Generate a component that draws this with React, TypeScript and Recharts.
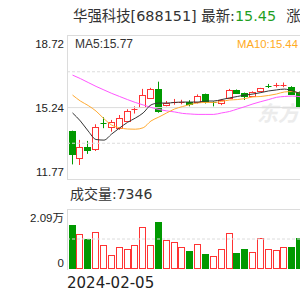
import React from "react";
import { ComposedChart, Bar, Line, XAxis, YAxis, ReferenceLine } from "recharts";

const dates = [
  "2024-02-05", "2024-02-06", "2024-02-07", "2024-02-08", "2024-02-19", "2024-02-20",
  "2024-02-21", "2024-02-22", "2024-02-23", "2024-02-26", "2024-02-27", "2024-02-28",
  "2024-02-29", "2024-03-01", "2024-03-04", "2024-03-05", "2024-03-06", "2024-03-07",
  "2024-03-08", "2024-03-11", "2024-03-12", "2024-03-13", "2024-03-14", "2024-03-15",
  "2024-03-18", "2024-03-19", "2024-03-20", "2024-03-21", "2024-03-22", "2024-03-25",
];
const opens = [14.10, 12.81, 13.31, 13.23, 14.48, 14.31, 14.24, 14.60, 15.13, 15.27, 15.69, 16.13, 15.36, 15.50, 15.50, 15.53, 15.50, 15.89, 15.50, 15.48, 15.69, 16.10, 15.96, 15.82, 16.05, 16.29, 16.30, 16.30, 16.26, 16.00];
const highs = [14.12, 13.67, 13.62, 14.43, 14.77, 14.64, 14.88, 15.16, 15.30, 16.15, 16.20, 16.50, 15.56, 15.66, 15.62, 15.60, 15.88, 15.92, 15.54, 15.66, 16.15, 16.12, 15.97, 16.03, 16.20, 16.39, 16.44, 16.46, 16.28, 16.02];
const lows = [12.48, 12.45, 12.99, 13.13, 14.24, 14.07, 14.16, 14.55, 14.95, 15.24, 15.66, 14.99, 15.30, 15.38, 15.40, 15.30, 15.44, 15.44, 15.30, 15.36, 15.66, 15.92, 15.61, 15.78, 16.02, 16.19, 16.22, 16.23, 15.88, 15.25];
const closes = [12.97, 13.34, 13.18, 14.31, 14.48, 14.55, 14.72, 15.09, 15.16, 15.85, 16.13, 15.08, 15.44, 15.53, 15.53, 15.45, 15.80, 15.48, 15.50, 15.61, 16.10, 15.93, 15.80, 16.01, 16.18, 16.29, 16.33, 16.33, 15.90, 15.30];
const ma5 = [14.98, 14.59, 14.10, 13.69, 13.66, 13.96, 14.25, 14.52, 14.73, 14.98, 15.37, 15.46, 15.46, 15.49, 15.51, 15.51, 15.51, 15.56, 15.56, 15.63, 15.71, 15.78, 15.85, 15.90, 15.97, 16.05, 16.10, 16.14, 16.05, 15.93];
const ma10 = [15.85, 15.56, 15.34, 15.07, 14.70, 14.39, 14.26, 14.20, 14.19, 14.26, 14.59, 14.78, 14.98, 15.17, 15.29, 15.39, 15.47, 15.49, 15.49, 15.54, 15.61, 15.63, 15.68, 15.76, 15.78, 15.83, 15.90, 16.00, 16.02, 15.93];
const ma20 = [16.82, 16.65, 16.46, 16.27, 16.10, 15.93, 15.78, 15.63, 15.49, 15.37, 15.25, 15.15, 15.08, 15.03, 14.96, 14.93, 14.91, 14.91, 14.91, 14.98, 15.05, 15.17, 15.29, 15.42, 15.53, 15.63, 15.74, 15.78, 15.80, 15.77];
const volumes = [1.53, 1.22, 1.045, 1.28, 0.84, 0.49, 0.78, 0.69, 0.84, 1.45, 0.84, 1.63, 1.01, 0.93, 0.78, 0.64, 0.87, 0.52, 0.45, 0.69, 1.24, 0.56, 0.70, 0.58, 1.07, 0.69, 0.66, 0.78, 0.78, 1.07];

const priceTicks = [11.77, 15.24, 18.72];
const volTicks = [0, 2.09];
const volTickLabels = ["0", "2.09万"];

const stockName = "华强科技[688151]";
const latestLabel = "最新:";
const latestValue = "15.45";
const changeLabel = "涨跌";
const ma5Label = "MA5:15.77";
const ma10Label = "MA10:15.44";
const volLabel = "成交量:7346";
const watermark = "东方";

const RED = "#ff3333";
const GREEN = "#009900";
const GRID = "#dcdcdc";

const rows = dates.map((d, i) => ({
  date: d,
  open: opens[i],
  high: highs[i],
  low: lows[i],
  close: closes[i],
  range: [lows[i], highs[i]],
  ma5: ma5[i],
  ma10: ma10[i],
  ma20: ma20[i],
  vol: volumes[i],
}));

const pMin = priceTicks[0];
const pMax = priceTicks[priceTicks.length - 1];
const q1 = pMin + (pMax - pMin) / 4;
const q3 = pMin + ((pMax - pMin) * 3) / 4;
const vMax = volTicks[volTicks.length - 1];

const Candle = (props: any) => {
  const { x, y, width, height, payload } = props;
  const { open, close, high, low } = payload;
  const top = Math.min(y, y + height);
  const h = Math.abs(height);
  const toY = (p: number) => top + ((high - p) / (high - low)) * h;
  const up = close > open;
  const color = up ? RED : GREEN;
  const left = Math.round(x) + 0.5;
  const w = Math.round(width) - 1;
  const cx = left + Math.floor(w / 2);
  const bTop = toY(Math.max(open, close));
  const bBot = toY(Math.min(open, close));
  const bh = bBot - bTop;
  return (
    <g>
      <line x1={cx} x2={cx} y1={top} y2={top + h} stroke={color} strokeWidth={1} />
      {bh < 1 ? (
        <line x1={left} x2={left + w} y1={Math.round(bTop) + 0.5} y2={Math.round(bTop) + 0.5} stroke={color} strokeWidth={1} />
      ) : (
        <rect x={left} y={Math.round(bTop) + 0.5} width={w} height={Math.max(1, Math.round(bh))} fill={up ? "#fff" : color} stroke={color} strokeWidth={1} />
      )}
    </g>
  );
};

const VolBar = (props: any) => {
  const { x, y, width, height, payload } = props;
  const up = payload.close >= payload.open;
  const color = up ? RED : GREEN;
  const left = Math.round(x) + 0.5;
  const w = Math.round(width) - 1;
  const top = Math.round(y) + 0.5;
  const bottom = Math.round(y + height) - 0.5;
  return <rect x={left} y={top} width={w} height={Math.max(0, bottom - top)} fill={up ? "#fff" : color} stroke={color} strokeWidth={1} />;
};

const PriceTick = (props: any) => {
  const { x, y, payload } = props;
  const v = payload.value;
  const dy = v === pMax ? 8 : v === pMin ? -7 : 0;
  return (
    <text x={x} y={y + dy} textAnchor="end" dominantBaseline="central" fontSize={11.5} fill="#222" fontFamily="'Liberation Sans', Arial, sans-serif">
      {v.toFixed(2)}
    </text>
  );
};

const VolTick = (props: any) => {
  const { x, y, payload } = props;
  const v = payload.value;
  const idx = volTicks.indexOf(v);
  const dy = v === vMax ? 9 : -6;
  return (
    <text x={x} y={y + dy} textAnchor="end" dominantBaseline="central" fontSize={11.5} fill="#222" fontFamily="'Liberation Sans', 'Noto Sans CJK SC', sans-serif">
      {volTickLabels[idx]}
    </text>
  );
};

const hline = (top: number): React.CSSProperties => ({ position: "absolute", left: 67, top, width: 233, height: 1, background: GRID });
const vline = (top: number, height: number): React.CSSProperties => ({ position: "absolute", left: 67, top, width: 1, height, background: GRID });

const cjk = "'DejaVu Sans', 'Noto Sans CJK SC', sans-serif";

export default function App() {
  return (
    <div style={{ position: "fixed", left: 0, top: 0, width: 300, height: 300, overflow: "hidden", background: "#fff" }}>
      <div style={{ position: "absolute", left: 73, top: 7, fontSize: 14.4, lineHeight: "18px", whiteSpace: "nowrap", fontFamily: cjk, color: "#333" }}>
        {stockName} {latestLabel}
        <span style={{ color: "#1f9f1f" }}>{latestValue}</span>
        <span style={{ marginLeft: 10 }}>{changeLabel}</span>
      </div>
      <div style={{ position: "absolute", left: 257, top: 99, fontSize: 21, lineHeight: "26px", whiteSpace: "nowrap", fontFamily: "'Noto Sans CJK SC', sans-serif", fontWeight: 700, fontStyle: "italic", color: "#ececec" }}>
        {watermark}
      </div>
      <div style={hline(35)} />
      <div style={vline(35, 145)} />
      <div style={hline(179)} />
      <div style={hline(209)} />
      <div style={vline(209, 61)} />
      <div style={{ position: "absolute", left: 0, top: 0 }}>
        <ComposedChart width={304} height={180} data={rows} margin={{ top: 36, right: 0, bottom: 1, left: 0 }}>
          <XAxis dataKey="date" hide padding={{ left: 1.6, right: 0 }} />
          <YAxis domain={[pMin, pMax]} ticks={priceTicks} interval={0} width={67} tickSize={0} tickMargin={3} axisLine={false} tickLine={false} tick={PriceTick} allowDataOverflow />
          <ReferenceLine y={priceTicks[1]} stroke={GRID} strokeWidth={1} />
          <ReferenceLine y={q3} stroke={GRID} strokeDasharray="3 2" />
          <ReferenceLine y={q1} stroke={GRID} strokeDasharray="3 2" />
          <Bar dataKey="range" barSize={7} shape={Candle} isAnimationActive={false} />
          <Line dataKey="ma20" type="monotone" stroke="#ff55ff" strokeWidth={1} dot={false} isAnimationActive={false} />
          <Line dataKey="ma10" type="monotone" stroke="#ffaa33" strokeWidth={1} dot={false} isAnimationActive={false} />
          <Line dataKey="ma5" type="monotone" stroke="#333333" strokeWidth={1} dot={false} isAnimationActive={false} />
        </ComposedChart>
      </div>
      <div style={{ position: "absolute", left: 75, top: 37, fontSize: 12, lineHeight: "14px", fontFamily: "'Liberation Sans', Arial, sans-serif", color: "#333", whiteSpace: "nowrap" }}>{ma5Label}</div>
      <div style={{ position: "absolute", left: 237, top: 37, fontSize: 11.3, lineHeight: "14px", fontFamily: "'Liberation Sans', Arial, sans-serif", color: "#ffaa22", whiteSpace: "nowrap" }}>{ma10Label}</div>
      <div style={{ position: "absolute", left: 70, top: 185, fontSize: 14, lineHeight: "18px", fontFamily: cjk, color: "#333", whiteSpace: "nowrap" }}>{volLabel}</div>
      <div style={{ position: "absolute", left: 0, top: 209 }}>
        <ComposedChart width={304} height={61} data={rows} margin={{ top: 0, right: 0, bottom: 1, left: 0 }}>
          <XAxis dataKey="date" hide padding={{ left: 1.6, right: 0 }} />
          <YAxis domain={[0, vMax]} ticks={volTicks} interval={0} width={67} tickSize={0} tickMargin={3} axisLine={false} tickLine={false} tick={VolTick} allowDataOverflow />
          <ReferenceLine y={vMax / 2} stroke={GRID} strokeDasharray="3 2" />
          <Bar dataKey="vol" barSize={7} shape={VolBar} isAnimationActive={false} />
        </ComposedChart>
      </div>
      <div style={{ position: "absolute", left: 67, top: 274, fontSize: 15, lineHeight: "18px", fontFamily: cjk, color: "#222", whiteSpace: "nowrap" }}>{dates[0]}</div>
    </div>
  );
}
